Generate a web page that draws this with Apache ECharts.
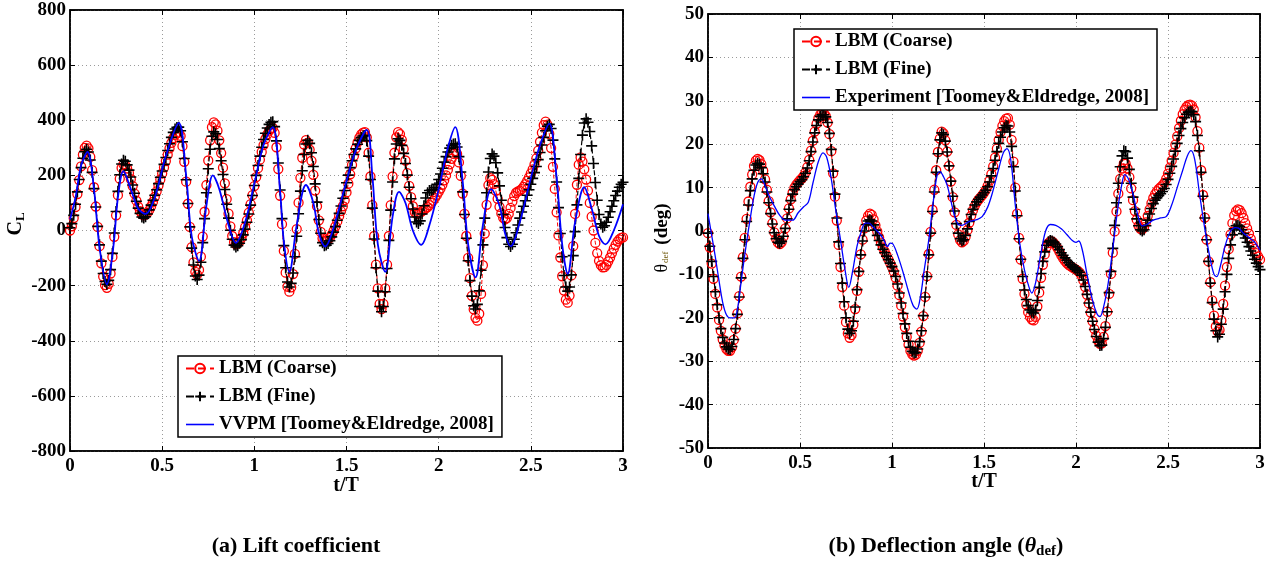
<!DOCTYPE html>
<html>
<head>
<meta charset="utf-8">
<title>Lift coefficient and deflection angle</title>
<script src="https://cdn.jsdelivr.net/npm/echarts@6.0.0/dist/echarts.min.js"></script>
<style>
  html, body { margin: 0; padding: 0; background: #fff; }
  #chart { width: 1271px; height: 565px; }
</style>
</head>
<body>
<div id="chart"></div>
<script>
// LBM samples every 0.01 t/T, from t/T = 0 to 3
const dt = 0.01;

// (a) lift coefficient, LBM coarse grid
const coarseCL = [
  0, 15, 45, 85, 132, 183, 233, 275, 300, 308,
  298, 267, 219, 157, 87, 13, -57, -119, -167, -198,
  -208, -194, -156, -96, -23, 55, 128, 188, 227, 240,
  236, 225, 208, 186, 161, 134, 108, 87, 70, 59,
  55, 58, 64, 74, 88, 104, 122, 142, 163, 185,
  207, 229, 252, 275, 298, 318, 335, 347, 353, 355,
  343, 306, 249, 177, 97, 13, -60, -116, -150, -160,
  -143, -95, -22, 68, 165, 254, 327, 375, 392, 385,
  362, 327, 281, 228, 171, 114, 61, 15, -20, -42,
  -50, -47, -40, -27, -10, 12, 37, 65, 96, 128,
  161, 194, 226, 257, 285, 310, 332, 349, 362, 369,
  372, 354, 302, 223, 126, 23, -74, -153, -204, -222,
  -206, -158, -85, 5, 101, 191, 264, 312, 328, 319,
  293, 253, 202, 145, 88, 37, -5, -29, -38, -37,
  -33, -26, -15, -1, 15, 33, 52, 70, 88, 110,
  138, 170, 204, 238, 270, 298, 320, 337, 349, 355,
  357, 338, 282, 196, 92, -20, -124, -210, -266, -285,
  -266, -210, -124, -20, 92, 196, 282, 338, 357, 350,
  329, 296, 254, 208, 162, 121, 88, 67, 60, 61,
  65, 70, 75, 80, 85, 92, 100, 108, 118, 128,
  140, 152, 166, 182, 200, 220, 240, 260, 278, 288,
  278, 247, 198, 134, 60, -20, -99, -173, -237, -286,
  -317, -327, -302, -230, -126, -11, 93, 165, 190, 184,
  168, 144, 115, 86, 62, 46, 40, 45, 60, 82,
  105, 125, 137, 142, 145, 150, 158, 168, 180, 193,
  207, 222, 240, 262, 290, 322, 355, 382, 395, 384,
  351, 299, 231, 151, 66, -18, -98, -166, -218, -251,
  -262, -236, -163, -57, 60, 166, 239, 265, 250, 222,
  185, 145, 100, 50, 0, -45, -82, -110, -126, -134,
  -133, -125, -112, -98, -82, -66, -52, -40, -32, -27,
  -25
];

// (a) lift coefficient, LBM fine grid
const fineCL = [
  10, 25, 55, 95, 140, 185, 228, 262, 286, 295,
  285, 256, 211, 152, 85, 15, -52, -111, -156, -185,
  -195, -181, -142, -83, -9, 69, 142, 202, 241, 255,
  251, 238, 219, 194, 165, 135, 106, 81, 62, 49,
  45, 50, 60, 75, 92, 110, 128, 148, 170, 193,
  216, 240, 265, 290, 315, 338, 356, 368, 374, 375,
  362, 322, 261, 184, 98, 13, -64, -125, -165, -178,
  -162, -115, -44, 43, 137, 224, 295, 342, 358, 351,
  330, 297, 253, 203, 149, 95, 45, 1, -32, -53,
  -60, -55, -46, -33, -16, 5, 30, 60, 92, 127,
  163, 200, 236, 270, 302, 330, 353, 372, 385, 393,
  395, 377, 325, 245, 147, 43, -55, -135, -187, -205,
  -192, -154, -95, -21, 61, 143, 217, 276, 314, 327,
  316, 282, 232, 169, 103, 40, -10, -44, -55, -53,
  -47, -37, -23, -6, 14, 37, 62, 89, 117, 145,
  173, 201, 228, 253, 276, 296, 313, 327, 337, 343,
  345, 326, 270, 185, 81, -31, -135, -220, -276, -295,
  -276, -222, -138, -36, 74, 176, 260, 314, 333, 327,
  309, 280, 243, 201, 157, 115, 78, 49, 31, 25,
  35, 60, 90, 118, 137, 145, 146, 148, 155, 168,
  185, 205, 226, 248, 268, 285, 299, 309, 314, 315,
  303, 268, 212, 140, 58, -28, -110, -182, -238, -273,
  -285, -268, -219, -144, -52, 45, 137, 212, 261, 278,
  270, 246, 209, 162, 110, 58, 11, -26, -50, -58,
  -50, -32, -8, 20, 45, 67, 88, 108, 128, 148,
  168, 189, 210, 232, 257, 283, 310, 338, 362, 378,
  385, 370, 328, 260, 176, 83, -11, -95, -163, -205,
  -220, -205, -161, -91, -4, 93, 189, 276, 346, 390,
  405, 393, 359, 307, 243, 174, 110, 58, 24, 12,
  17, 30, 48, 68, 88, 108, 127, 143, 157, 168,
  175
];

// (a) VVPM reference curve, [t/T, CL]
const vvpmCL = [
  [0, 40], [0.03, 120], [0.06, 235], [0.095, 285], [0.13, 150], [0.16, -60],
  [0.2, -195], [0.235, -60], [0.26, 120], [0.29, 215], [0.33, 150], [0.37, 80],
  [0.41, 60], [0.46, 120], [0.52, 270], [0.59, 390], [0.63, 200], [0.66, -20],
  [0.7, -110], [0.74, 90], [0.775, 200], [0.81, 150], [0.86, 20], [0.9, -45],
  [0.95, 30], [1.0, 170], [1.05, 310], [1.1, 375], [1.14, 140], [1.16, -40],
  [1.19, -150], [1.23, 20], [1.28, 165], [1.32, 100], [1.35, -10], [1.385, -58],
  [1.43, 10], [1.5, 180], [1.55, 290], [1.61, 365], [1.64, 200], [1.67, -50],
  [1.71, -150], [1.75, 50], [1.785, 140], [1.82, 100], [1.86, 0], [1.905, -52],
  [1.95, 20], [2.0, 150], [2.05, 300], [2.09, 375], [2.13, 180], [2.16, -50],
  [2.2, -170], [2.24, 20], [2.285, 150], [2.33, 90], [2.36, -10], [2.39, -57],
  [2.44, 30], [2.5, 190], [2.55, 310], [2.6, 388], [2.64, 190], [2.67, -50],
  [2.7, -157], [2.74, 30], [2.79, 157], [2.83, 80], [2.87, -20], [2.905, -50],
  [2.95, 0], [3.0, 95]
];

// (b) deflection angle (deg), LBM coarse grid
const coarseTheta = [
  -0.5, -3.8, -7.5, -11, -14.5, -17.6, -20.5, -23, -25, -26.3,
  -27.2, -27.6, -27.6, -26.8, -25.1, -22.5, -19, -15, -10.5, -6,
  -1.6, 2.8, 6.8, 10.2, 13, 15, 16.2, 16.6, 16.3, 15.4,
  13.9, 11.9, 9.5, 6.9, 4.3, 1.8, -0.3, -1.8, -2.7, -3,
  -2.6, -1.3, 0.6, 2.9, 5.2, 7.3, 8.9, 10, 10.7, 11.2,
  11.7, 12.1, 12.7, 13.5, 14.7, 16.4, 18.5, 20.8, 22.9, 24.7,
  26, 26.8, 27.2, 27.1, 26.5, 25, 22.3, 18.4, 13.3, 7.9,
  2.4, -3.2, -8.3, -12.9, -17.2, -21, -23.6, -24.6, -24, -21.6,
  -18, -13.8, -9.4, -5.4, -2, 0.6, 2.4, 3.5, 4, 3.7,
  2.7, 1.3, -0.1, -1.5, -2.7, -3.8, -4.7, -5.6, -6.5, -7.4,
  -8.3, -9.4, -10.8, -12.6, -14.8, -17.2, -19.7, -22.2, -24.4, -26.2,
  -27.6, -28.4, -28.7, -28.5, -27.6, -25.8, -23.2, -19.6, -15.2, -10.4,
  -5.3, -0.2, 4.9, 9.5, 14, 18.2, 21.3, 22.9, 22.5, 20.9,
  18.3, 15, 11.4, 7.8, 4.3, 1.4, -0.8, -2.1, -2.6, -2.3,
  -1.3, 0.2, 1.9, 3.5, 4.8, 5.8, 6.6, 7.2, 7.7, 8.2,
  8.8, 9.5, 10.4, 11.6, 13.1, 14.9, 16.9, 19, 21, 22.8,
  24.2, 25.3, 25.9, 26, 24.5, 21, 16, 10, 4, -1.6,
  -6.6, -11, -14.5, -17, -18.7, -19.8, -20.4, -20.6, -19.8, -17.4,
  -14.2, -10.8, -7.8, -5.4, -3.7, -2.8, -2.4, -2.4, -2.8, -3.3,
  -4, -4.8, -5.6, -6.3, -6.9, -7.4, -7.8, -8.1, -8.4, -8.6,
  -8.9, -9.2, -9.6, -10.3, -11.4, -12.9, -14.7, -16.7, -18.8, -20.8,
  -22.6, -24.1, -25.3, -26, -25.9, -24.4, -21.9, -18.6, -14.5, -9.9,
  -5, -0.1, 4.5, 8.6, 12, 14.4, 15.6, 15.5, 14.4, 12.4,
  9.8, 7.1, 4.6, 2.6, 1.2, 0.5, 0.4, 0.9, 2, 3.5,
  5, 6.4, 7.6, 8.5, 9.2, 9.7, 10.1, 10.5, 11.1, 12,
  13.2, 14.6, 16.2, 18, 19.9, 21.8, 23.7, 25.4, 26.9, 27.9,
  28.6, 29, 29.1, 28.9, 28, 26.2, 23, 19.2, 14, 8.3,
  3.1, -2, -7, -11.8, -16, -19.5, -22, -23.2, -22.8, -20.6,
  -16.8, -12.6, -8.3, -4.2, -0.8, 1.8, 3.6, 4.6, 5, 4.8,
  4.1, 3, 1.8, 0.6, -0.6, -1.8, -3, -4.1, -5.1, -5.9,
  -6.6
];

// (b) deflection angle (deg), LBM fine grid
const fineTheta = [
  -0.5, -3.5, -7, -10.5, -14, -17, -20, -22.5, -24.5, -25.8,
  -26.7, -27.2, -27.3, -26.6, -25, -22.5, -19.2, -15.2, -10.8, -6.3,
  -2, 2.2, 6, 9.3, 12, 14, 15.2, 15.6, 15.4, 14.6,
  13.2, 11.3, 9, 6.5, 4, 1.6, -0.4, -1.8, -2.6, -2.8,
  -2.4, -1.2, 0.6, 2.8, 5, 7, 8.5, 9.5, 10.2, 10.8,
  11.4, 11.8, 12.5, 13.3, 14.5, 16.2, 18.3, 20.5, 22.6, 24.3,
  25.6, 26.4, 26.8, 26.8, 26.3, 25, 22.5, 18.8, 13.8, 8.5,
  3, -2.5, -7.5, -12, -16.3, -20, -22.6, -23.6, -23, -20.8,
  -17.5, -13.5, -9.3, -5.5, -2.3, 0, 1.5, 2.3, 2.6, 2.3,
  1.4, 0.2, -1, -2.2, -3.2, -4.2, -5, -5.8, -6.6, -7.4,
  -8.2, -9.2, -10.5, -12.2, -14.3, -16.6, -19, -21.4, -23.6, -25.4,
  -26.8, -27.7, -28.1, -28, -27.2, -25.5, -23, -19.5, -15.2, -10.5,
  -5.5, -0.5, 4.5, 9, 13.5, 17.8, 21, 22.6, 22.2, 20.7,
  18.2, 15, 11.5, 8, 4.6, 1.7, -0.5, -1.8, -2.3, -2,
  -1, 0.5, 2.2, 3.8, 5, 6, 6.7, 7.3, 7.8, 8.3,
  8.8, 9.4, 10.2, 11.3, 12.7, 14.4, 16.3, 18.3, 20.2, 21.6,
  22.8, 23.8, 24.3, 24.2, 22.8, 19.5, 14.8, 9.2, 3.5, -1.8,
  -6.5, -10.5, -13.6, -15.8, -17.2, -18.2, -18.7, -18.9, -18.2, -16,
  -13, -9.8, -7, -4.8, -3.3, -2.5, -2.2, -2.3, -2.6, -3,
  -3.6, -4.3, -5, -5.6, -6.2, -6.8, -7.3, -7.8, -8.2, -8.5,
  -8.8, -9.1, -9.5, -10.2, -11.3, -12.8, -14.6, -16.6, -18.7, -20.8,
  -22.7, -24.3, -25.6, -26.4, -26.3, -24.8, -22.2, -18.6, -14.2, -9.3,
  -4, 1.3, 6.5, 11, 14.8, 17.3, 18.5, 18.3, 16.8, 14.2,
  11, 7.8, 5, 2.8, 1.2, 0.3, 0, 0.3, 1.2, 2.5,
  3.9, 5.2, 6.3, 7.1, 7.7, 8.2, 8.6, 9.1, 9.8, 10.7,
  11.9, 13.3, 14.9, 16.6, 18.4, 20.2, 22, 23.6, 25, 26.1,
  26.9, 27.4, 27.6, 27.5, 26.8, 25.2, 22, 18.5, 13.5, 8,
  3, -2, -7, -12, -16.5, -20.3, -23, -24.4, -23.8, -21.5,
  -18, -14, -10, -6.3, -3.2, -0.9, 0.5, 1.2, 1.3, 1,
  0.3, -0.6, -1.6, -2.6, -3.6, -4.6, -5.6, -6.5, -7.4, -8.2,
  -8.9
];

// (b) experiment, [t/T, deg]
const experimentTheta = [
  [0, 4], [0.02, -1], [0.04, -6], [0.06, -11.5], [0.08, -16.5], [0.1, -19.3],
  [0.12, -20], [0.145, -20], [0.16, -18], [0.175, -13.4], [0.19, -8.5], [0.21, -2.5],
  [0.23, 3], [0.25, 8], [0.27, 11.2], [0.29, 12], [0.31, 10.5], [0.33, 8.3],
  [0.36, 5.8], [0.39, 3.6], [0.42, 2.5], [0.46, 2.5], [0.49, 4.2], [0.52, 5.6],
  [0.545, 6.6], [0.57, 11], [0.6, 16], [0.625, 18], [0.645, 17], [0.67, 12],
  [0.69, 6], [0.72, -2], [0.745, -9], [0.765, -13], [0.785, -9.5], [0.81, -3.5],
  [0.83, -0.5], [0.855, 1.8], [0.875, 1.8], [0.9, 0.8], [0.93, -0.5], [0.955, -2],
  [0.975, -3.6], [0.99, -2.8], [1.005, -3], [1.03, -5.5], [1.06, -9.5], [1.09, -14],
  [1.115, -17.2], [1.135, -18], [1.155, -15], [1.175, -9], [1.2, -2], [1.225, 7],
  [1.245, 12.8], [1.26, 13.7], [1.28, 12.5], [1.3, 10.5], [1.32, 7], [1.34, 3.5],
  [1.36, 1.5], [1.38, 1.3], [1.42, 2.2], [1.46, 2.6], [1.49, 3.3], [1.52, 5.5],
  [1.545, 8.7], [1.575, 13.5], [1.605, 18], [1.625, 19], [1.645, 16.5], [1.67, 6],
  [1.695, -3], [1.72, -9], [1.745, -13], [1.76, -14.3], [1.78, -12], [1.81, -5],
  [1.835, 0], [1.86, 1.5], [1.89, 1.3], [1.92, 0.5], [1.95, -0.8], [1.98, -2.2],
  [2.0, -2.6], [2.015, -2.3], [2.035, -4.5], [2.06, -10], [2.09, -16], [2.115, -19.2],
  [2.13, -19.7], [2.15, -17.5], [2.175, -12], [2.2, -4], [2.225, 4.5], [2.25, 11],
  [2.265, 13], [2.285, 12], [2.31, 8.5], [2.335, 3.8], [2.36, 1.2], [2.385, 1.5],
  [2.42, 2.5], [2.46, 3], [2.49, 3.3], [2.52, 6], [2.55, 10], [2.58, 14],
  [2.605, 17.3], [2.625, 18.5], [2.645, 16.5], [2.67, 9], [2.7, 0.5], [2.725, -5.5],
  [2.75, -10], [2.765, -10.5], [2.785, -8], [2.81, -3.5], [2.84, 0], [2.865, 0.8],
  [2.885, 0.6], [2.91, -0.5], [2.94, -1.5], [2.97, -2.5], [3.0, -4.5]
];

const xTicks = { min: 0, max: 3, interval: 0.5 };
const clTicks = { min: -800, max: 800, interval: 200 };
const thetaTicks = { min: -50, max: 50, interval: 10 };

const serif = "'Liberation Serif', 'Times New Roman', serif";
const font = (size, bold) => (bold ? 'bold ' : '') + size + 'px ' + serif;
const tickLabel = { color: '#000', fontFamily: serif, fontWeight: 'bold', fontSize: 19 };

let sampled = (arr) => arr.map((v, i) => [+(i * dt).toFixed(2), v]);

const plusPath = 'path://M5,0L5,10M0,5L10,5';
const lineIcon = 'path://M0,0H28V1.6H0Z';

let coarseStyle = {
  type: 'line', symbol: 'circle', symbolSize: 9,
  itemStyle: { color: 'rgba(255,0,0,0)', borderColor: '#ff0000', borderWidth: 1.3 },
  lineStyle: { color: '#ff0000', width: 1, type: 'dashed' },
  z: 2
};
let fineStyle = {
  type: 'line', symbol: plusPath, symbolSize: 11,
  itemStyle: { color: '#000', borderColor: '#000', borderWidth: 1.6 },
  lineStyle: { color: '#000', width: 1.2, type: 'dashed' },
  z: 3
};
let refStyle = {
  type: 'line', symbol: 'none', smooth: 0.35,
  lineStyle: { color: '#0000ff', width: 1.8 },
  itemStyle: { color: '#0000ff' },
  z: 4
};

// bottom/left axes carry labels and grid, top/right only ticks (MATLAB box)
function xAxes(g) {
  return [
    Object.assign({
      type: 'value', gridIndex: g, position: 'bottom',
      axisLine: { onZero: false, lineStyle: { color: '#000', width: 1.5 } },
      axisTick: { inside: true, length: 5, lineStyle: { color: '#000' } },
      axisLabel: Object.assign({ margin: 6, formatter: (v) => String(v) }, tickLabel),
      splitLine: { show: true, lineStyle: { color: '#9a9a9a', width: 1, type: [1, 3] } }
    }, xTicks),
    Object.assign({
      type: 'value', gridIndex: g, position: 'top',
      axisLine: { onZero: false, lineStyle: { color: '#000', width: 1.5 } },
      axisTick: { inside: true, length: 5, lineStyle: { color: '#000' } },
      axisLabel: { show: false }, splitLine: { show: false }
    }, xTicks)
  ];
}
function yAxes(g, ticks) {
  return [
    Object.assign({
      type: 'value', gridIndex: g, position: 'left',
      axisLine: { show: true, onZero: false, lineStyle: { color: '#000', width: 1.5 } },
      axisTick: { show: true, inside: true, length: 5, lineStyle: { color: '#000' } },
      axisLabel: Object.assign({ margin: 4 }, tickLabel),
      splitLine: { show: true, lineStyle: { color: '#9a9a9a', width: 1, type: [1, 3] } }
    }, ticks),
    Object.assign({
      type: 'value', gridIndex: g, position: 'right',
      axisLine: { show: true, onZero: false, lineStyle: { color: '#000', width: 1.5 } },
      axisTick: { show: true, inside: true, length: 5, lineStyle: { color: '#000' } },
      axisLabel: { show: false }, splitLine: { show: false }
    }, ticks)
  ];
}

let legendBase = {
  orient: 'vertical', itemWidth: 28, itemHeight: 12, itemGap: 7,
  padding: [2, 8, 2, 7], backgroundColor: '#fff',
  borderColor: '#000', borderWidth: 1.5, borderRadius: 0,
  textStyle: { color: '#000', fontFamily: serif, fontWeight: 'bold', fontSize: 19, lineHeight: 21 },
  selectedMode: false
};

const chart = echarts.init(document.getElementById('chart'), null, { renderer: 'canvas' });

chart.setOption({
  backgroundColor: '#fff',
  animation: false,
  grid: [
    { left: 70, top: 10, width: 553, height: 441, show: true, borderColor: '#000', borderWidth: 1.5, backgroundColor: '#fff' },
    { left: 708, top: 14, width: 552, height: 434, show: true, borderColor: '#000', borderWidth: 1.5, backgroundColor: '#fff' }
  ],
  xAxis: xAxes(0).concat(xAxes(1)),
  yAxis: yAxes(0, clTicks).concat(yAxes(1, thetaTicks)),
  legend: [
    Object.assign({ left: 178, top: 356, data: ['LBM (Coarse)', 'LBM (Fine)', { name: 'VVPM [Toomey&Eldredge, 2008]', icon: lineIcon }] }, legendBase),
    Object.assign({ left: 794, top: 29, data: ['LBM (Coarse)', 'LBM (Fine)', { name: 'Experiment [Toomey&Eldredge, 2008]', icon: lineIcon }] }, legendBase)
  ],
  series: [
    Object.assign({ name: 'LBM (Coarse)', xAxisIndex: 0, yAxisIndex: 0, data: sampled(coarseCL) }, coarseStyle),
    Object.assign({ name: 'LBM (Fine)', xAxisIndex: 0, yAxisIndex: 0, data: sampled(fineCL) }, fineStyle),
    Object.assign({ name: 'VVPM [Toomey&Eldredge, 2008]', xAxisIndex: 0, yAxisIndex: 0, data: vvpmCL }, refStyle),
    Object.assign({ name: 'LBM (Coarse)', xAxisIndex: 2, yAxisIndex: 2, data: sampled(coarseTheta) }, coarseStyle),
    Object.assign({ name: 'LBM (Fine)', xAxisIndex: 2, yAxisIndex: 2, data: sampled(fineTheta) }, fineStyle),
    Object.assign({ name: 'Experiment [Toomey&Eldredge, 2008]', xAxisIndex: 2, yAxisIndex: 2, data: experimentTheta },
      refStyle, { lineStyle: { color: '#0000ff', width: 1.3 } })
  ],
  graphic: [
    // axis titles
    { type: 'text', x: 346, y: 486, style: { text: 't/T', font: font(20, true), fill: '#000', align: 'center', verticalAlign: 'middle' } },
    { type: 'text', x: 984, y: 482, style: { text: 't/T', font: font(20, true), fill: '#000', align: 'center', verticalAlign: 'middle' } },
    {
      type: 'text', x: 16, y: 224, rotation: Math.PI / 2,
      style: {
        text: '{c|C}{s|L}', align: 'center', verticalAlign: 'middle', fill: '#000',
        rich: { c: { font: font(20, true), fill: '#000' }, s: { font: font(13, true), fill: '#000', padding: [9, 0, 0, 0] } }
      }
    },
    {
      type: 'text', x: 662, y: 238, rotation: Math.PI / 2,
      style: {
        text: '{t|θ}{s|def}{d| (deg)}', align: 'center', verticalAlign: 'middle', fill: '#000',
        rich: {
          t: { font: font(18, false), fill: '#000' },
          s: { font: font(9, false), fill: '#6a5200', padding: [8, 2, 0, 1] },
          d: { font: font(19, true), fill: '#000' }
        }
      }
    },
    // panel captions
    { type: 'text', x: 296, y: 546, style: { text: '(a) Lift coefficient', font: font(22, true), fill: '#000', align: 'center', verticalAlign: 'middle' } },
    {
      type: 'text', x: 946, y: 546,
      style: {
        text: '{n|(b) Deflection angle (}{t|θ}{s|def}{n|)}', align: 'center', verticalAlign: 'middle', fill: '#000',
        rich: {
          n: { font: font(22, true), fill: '#000' },
          t: { font: 'italic ' + font(22, true), fill: '#000' },
          s: { font: font(15, true), fill: '#000', padding: [10, 0, 0, 0] }
        }
      }
    }
  ]
});
</script>
</body>
</html>
